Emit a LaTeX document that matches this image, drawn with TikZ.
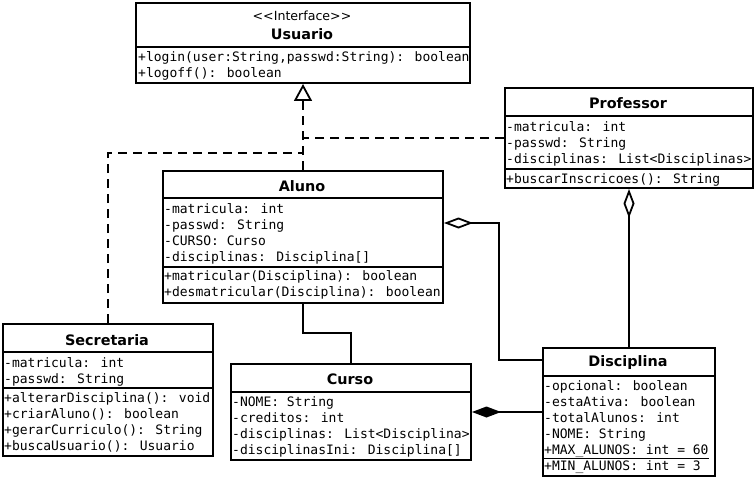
\documentclass[tikz,border=0pt]{standalone}
\usepackage{fontspec}
\setmainfont{DejaVu Sans}
\newfontfamily\codefont{DejaVu Sans Mono}
\usetikzlibrary{arrows.meta}
\begin{document}
\begin{tikzpicture}[x=1pt,y=-1pt,
  classbox/.style={draw, line width=2pt, inner sep=0pt, anchor=north west},
  member/.style={anchor=west, inner sep=0pt, text height=10pt, text depth=3pt,
    font=\codefont\fontsize{13}{16}\selectfont},
  classname/.style={inner sep=0pt, font=\bfseries\fontsize{14.4}{16}\selectfont},
  stereo/.style={inner sep=0pt, font=\fontsize{12.6}{15}\selectfont},
  divider/.style={line width=2pt},
  link/.style={line width=2pt},
  realize/.style={link, dash pattern=on 9pt off 6pt},
  aggregation/.style={link, {Diamond[open, length=29pt, width=11pt, line width=1.8pt]}-},
  composition/.style={link, {Diamond[length=29pt, width=11pt]}-},
  staticline/.style={line width=1pt}
]
\useasboundingbox (0,0) rectangle (754,476);

% ---------- class frames ----------
\node[classbox, minimum width=334pt, minimum height=80pt]  (usuario)    at (135,2)   {};
\node[classbox, minimum width=248pt, minimum height=100pt] (professor)  at (504,87)  {};
\node[classbox, minimum width=280pt, minimum height=132pt] (aluno)      at (162,170) {};
\node[classbox, minimum width=210pt, minimum height=132pt] (secretaria) at (2,323)   {};
\node[classbox, minimum width=240pt, minimum height=96pt]  (curso)      at (230,363) {};
\node[classbox, minimum width=172pt, minimum height=128pt] (disciplina) at (542,347) {};

% ---------- compartment dividers ----------
\draw[divider] (usuario.west |- 0,47) -- (usuario.east |- 0,47);
\draw[divider] (professor.west |- 0,116) -- (professor.east |- 0,116);
\draw[divider] (professor.west |- 0,169) -- (professor.east |- 0,169);
\draw[divider] (aluno.west |- 0,198) -- (aluno.east |- 0,198);
\draw[divider] (aluno.west |- 0,267) -- (aluno.east |- 0,267);
\draw[divider] (secretaria.west |- 0,352) -- (secretaria.east |- 0,352);
\draw[divider] (secretaria.west |- 0,388) -- (secretaria.east |- 0,388);
\draw[divider] (curso.west |- 0,392) -- (curso.east |- 0,392);
\draw[divider] (disciplina.west |- 0,376) -- (disciplina.east |- 0,376);

% ---------- Usuario ----------
\begin{scope}
  \clip (usuario.north west) rectangle (usuario.south east);
  \node[stereo]    (usuarioStereo) at (302,16) {{<}{<}Interface{>}{>}};
  \node[classname] (usuarioName)   at (302,34) {Usuario};
  \node[member] (usuarioM1) at (138,58) {+login(user:String,passwd:String): boolean};
  \node[member] (usuarioM2) at (138,74) {+logoff(): boolean};
\end{scope}

% ---------- Professor ----------
\begin{scope}
  \clip (professor.north west) rectangle (professor.south east);
  \node[classname] (professorName) at (628,103) {Professor};
  \node[member] (professorA1) at (506,128) {-matricula: int};
  \node[member] (professorA2) at (506,144) {-passwd: String};
  \node[member] (professorA3) at (506,160) {-disciplinas: List<Disciplinas>};
  \node[member] (professorM1) at (506,180) {+buscarInscricoes(): String};
\end{scope}

% ---------- Aluno ----------
\begin{scope}
  \clip (aluno.north west) rectangle (aluno.south east);
  \node[classname] (alunoName) at (302,186) {Aluno};
  \node[member] (alunoA1) at (164,210) {-matricula: int};
  \node[member] (alunoA2) at (164,226) {-passwd: String};
  \node[member] (alunoA3) at (164,242) {-CURSO: Curso};
  \node[member] (alunoA4) at (164,258) {-disciplinas: Disciplina[]};
  \node[member] (alunoM1) at (164,277) {+matricular(Disciplina): boolean};
  \node[member] (alunoM2) at (164,293) {+desmatricular(Disciplina): boolean};
\end{scope}

% ---------- Secretaria ----------
\begin{scope}
  \clip (secretaria.north west) rectangle (secretaria.south east);
  \node[classname] (secretariaName) at (107,340) {Secretaria};
  \node[member] (secretariaA1) at (4,364) {-matricula: int};
  \node[member] (secretariaA2) at (4,380) {-passwd: String};
  \node[member] (secretariaM1) at (4,399) {+alterarDisciplina(): void};
  \node[member] (secretariaM2) at (4,415) {+criarAluno(): boolean};
  \node[member] (secretariaM3) at (4,431) {+gerarCurriculo(): String};
  \node[member] (secretariaM4) at (4,447) {+buscaUsuario(): Usuario};
\end{scope}

% ---------- Curso ----------
\begin{scope}
  \clip (curso.north west) rectangle (curso.south east);
  \node[classname] (cursoName) at (350,379) {Curso};
  \node[member] (cursoA1) at (232,403) {-NOME: String};
  \node[member] (cursoA2) at (232,419) {-creditos: int};
  \node[member] (cursoA3) at (232,435) {-disciplinas: List<Disciplina>};
  \node[member] (cursoA4) at (232,451) {-disciplinasIni: Disciplina[]};
\end{scope}

% ---------- Disciplina ----------
\begin{scope}
  \clip (disciplina.north west) rectangle (disciplina.south east);
  \node[classname] (disciplinaName) at (628,363) {Disciplina};
  \node[member] (disciplinaA1) at (544,387) {-opcional: boolean};
  \node[member] (disciplinaA2) at (544,403) {-estaAtiva: boolean};
  \node[member] (disciplinaA3) at (544,419) {-totalAlunos: int};
  \node[member] (disciplinaA4) at (544,435) {-NOME: String};
  \node[member] (disciplinaA5) at (544,451) {+MAX\_ALUNOS: int = 60};
  \node[member] (disciplinaA6) at (544,467) {+MIN\_ALUNOS: int = 3};
  % static member underline (the last one runs into the bottom frame)
  \draw[staticline] ([yshift=-1pt]disciplinaA5.south west) -- ([yshift=-1pt]disciplinaA5.south east);
\end{scope}

% ---------- realizations of the Usuario interface ----------
\coordinate (profJoin) at (aluno.north |- professor.west);
\coordinate (secJoin)  at (aluno.north |- 0,153);
\draw[realize, -{Triangle[open, length=17pt, width=18pt, line width=1.8pt]}]
  (aluno.north) -- (aluno.north |- usuario.south);
\draw[realize] (professor.west) -- (profJoin);
\draw[realize] (secretaria.north) |- (secJoin);

% ---------- associations ----------
\coordinate (alunoAgg) at (aluno.east |- 0,223);
\draw[aggregation] (alunoAgg) -| (499,360) -- (disciplina.west |- 0,360);
\draw[aggregation] (professor.south) -- (professor.south |- disciplina.north);
\draw[composition] (curso.east) -- (curso.east -| disciplina.west);
\draw[link] (aluno.south) -- ++(0,29) -| (curso.north);
\end{tikzpicture}
\end{document}
